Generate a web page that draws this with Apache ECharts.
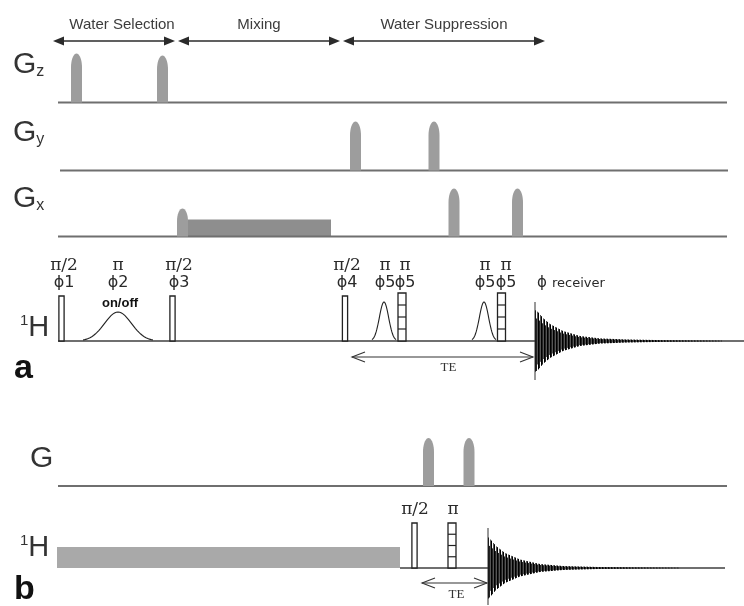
<!DOCTYPE html>
<html><head><meta charset="utf-8">
<script src="https://cdn.jsdelivr.net/npm/echarts@6/dist/echarts.min.js"></script>
<style>html,body{margin:0;padding:0;background:#fff}#c{width:744px;height:606px}</style>
</head><body><div id="c"></div>
<script>
// ================= DATA (time positions) =================
// Sequence phases (panel a)
const phaseNames = ['Water Selection', 'Mixing', 'Water Suppression'];
const phaseStart = [53, 178, 343];
const phaseEnd   = [175, 340, 545];

// Gradient lobes: centre times and amplitudes
const gzLobeTimes = [76.5, 162.5];
const gzLobeAmps  = [49, 47];
const gyLobeTimes = [355.5, 434];
const gyLobeAmps  = [49, 49];
const gxLobeTimes = [182.5, 454, 517.5];
const gxLobeAmps  = [28, 48, 48];
const gxMixingBlock = [188, 331];      // start, end
const gxMixingAmp = 17;
const gbLobeTimes = [428.5, 469];
const gbLobeAmps  = [48, 48];

// RF: hard pulses (pi/2), composite pulses (pi), shaped gaussian pulses
const hardPulseTimesA = [61.5, 172.5, 345];
const hardPulseTimesB = [414.5];
const compPulseTimesA = [402, 501.5];
const compPulseTimesB = [452];
const gaussTimesA = [118, 384, 484];
const gaussWidthsA = [70, 24, 24];
const gaussAmpsA = [29, 39, 39];
const saturationBlockB = [57, 400];   // start, end
const saturationAmpB = 21;

// Pulse labels
const flipLabelsA  = ['π/2', 'π', 'π/2', 'π/2', 'π', 'π', 'π', 'π'];
const phaseLabelsA = ['ϕ1', 'ϕ2', 'ϕ3', 'ϕ4', 'ϕ5', 'ϕ5', 'ϕ5', 'ϕ5'];
const labelTimesA  = [64, 118, 179, 347, 385, 405, 485, 506];
const flipLabelsB  = ['π/2', 'π'];
const labelTimesB  = [415, 453];

// Acquisition (FID) : start time and envelope amplitudes at time offsets
const fidStartA = 535;
const fidOffsetsA = [0, 3, 8, 15, 28, 45, 65, 90, 130, 180, 209];
const fidEnvA     = [31, 29, 23, 17, 10, 5, 2.6, 1.6, 0.8, 0.4, 0];
const fidStartB = 488;
const fidOffsetsB = [0, 3, 8, 17, 32, 52, 75, 110, 160, 237];
const fidEnvB     = [31, 28, 22, 15, 8.5, 4, 2, 1, 0.5, 0];

// Echo time markers
const teA = [352, 533];
const teB = [422, 487];

// ================= LAYOUT =================
const ROW = {gz: 102.5, gy: 170.5, gx: 236.5, ha: 341, gb: 486, hb: 568};
const GREY_LOBE = '#9d9d9d', GREY_LINE = '#6f6f6f', INK = '#222', TXT = '#3a3a3a';

function lobes(times, amps, row) { return times.map((t, i) => [t, row, amps[i]]); }
const lobeData = [].concat(
  lobes(gzLobeTimes, gzLobeAmps, ROW.gz),
  lobes(gyLobeTimes, gyLobeAmps, ROW.gy),
  lobes(gxLobeTimes, gxLobeAmps, ROW.gx),
  lobes(gbLobeTimes, gbLobeAmps, ROW.gb)
);
const blockData = [
  [gxMixingBlock[0], gxMixingBlock[1], ROW.gx, gxMixingAmp, 0],
  [saturationBlockB[0], saturationBlockB[1], ROW.hb, saturationAmpB, 1]
];
const baselineData = [
  [58, 727, ROW.gz], [60, 728, ROW.gy], [58, 727, ROW.gx],
  [58, 744, ROW.ha], [58, 727, ROW.gb], [400, 725, ROW.hb]
];
const hardData = hardPulseTimesA.map(t => [t, ROW.ha, 45]).concat(hardPulseTimesB.map(t => [t, ROW.hb, 45]));
const compData = compPulseTimesA.map(t => [t, ROW.ha, 48]).concat(compPulseTimesB.map(t => [t, ROW.hb, 45]));
const gaussData = gaussTimesA.map((t, i) => [t, ROW.ha, gaussWidthsA[i], gaussAmpsA[i]]);
const fidData = [[fidStartA, ROW.ha, 0], [fidStartB, ROW.hb, 1]];
const fidSpikes = [[39, 39], [40, 37]];
const teData = [[teA[0], teA[1], ROW.ha + 16], [teB[0], teB[1], ROW.hb + 15]];
const phaseData = phaseNames.map((n, i) => [phaseStart[i], phaseEnd[i], 41]);

// ---------- render helpers ----------
function lobeItem(params, api) {
  const t = api.value(0), y0 = api.value(1), h = api.value(2);
  const w = 11, r = Math.min(14, h * 0.45);
  const pts = [api.coord([t - w / 2, y0])];
  for (let i = 0; i <= 18; i++) {
    const a = Math.PI - i * Math.PI / 18;
    pts.push(api.coord([t + (w / 2) * Math.cos(a), y0 - h + r - r * Math.sin(a)]));
  }
  pts.push(api.coord([t + w / 2, y0]));
  return {type: 'polygon', shape: {points: pts}, style: {fill: GREY_LOBE}};
}
function blockItem(params, api) {
  const a = api.coord([api.value(0), api.value(2) - api.value(3)]);
  const b = api.coord([api.value(1), api.value(2)]);
  const kind = api.value(4);
  return {type: 'rect', shape: {x: a[0], y: a[1], width: b[0] - a[0], height: b[1] - a[1]},
    style: {fill: kind === 0 ? '#8e8e8e' : '#a9a9a9'}};
}
function baselineItem(params, api) {
  const a = api.coord([api.value(0), api.value(2)]), b = api.coord([api.value(1), api.value(2)]);
  return {type: 'line', shape: {x1: a[0], y1: a[1], x2: b[0], y2: b[1]},
    style: {stroke: GREY_LINE, lineWidth: 2}};
}
function hardItem(params, api) {
  const t = api.value(0), y0 = api.value(1), h = api.value(2);
  const a = api.coord([t - 2.6, y0 - h]), b = api.coord([t + 2.6, y0]);
  return {type: 'rect', shape: {x: a[0], y: a[1], width: b[0] - a[0], height: b[1] - a[1]},
    style: {fill: '#fff', stroke: INK, lineWidth: 1.3}};
}
function compItem(params, api) {
  const t = api.value(0), y0 = api.value(1), h = api.value(2);
  const a = api.coord([t - 4, y0 - h]), b = api.coord([t + 4, y0]);
  const children = [{type: 'rect', shape: {x: a[0], y: a[1], width: b[0] - a[0], height: b[1] - a[1]},
    style: {fill: '#fff', stroke: INK, lineWidth: 1.3}}];
  for (let k = 1; k < 4; k++) {
    const y = a[1] + (b[1] - a[1]) * k / 4;
    children.push({type: 'line', shape: {x1: a[0], y1: y, x2: b[0], y2: y}, style: {stroke: INK, lineWidth: 1.2}});
  }
  return {type: 'group', children};
}
function gaussItem(params, api) {
  const t = api.value(0), y0 = api.value(1), w = api.value(2), h = api.value(3);
  const s = w / 5.2, pts = [];
  for (let i = 0; i <= 40; i++) {
    const x = t - w / 2 + w * i / 40;
    pts.push(api.coord([x, y0 - h * Math.exp(-((x - t) * (x - t)) / (2 * s * s))]));
  }
  return {type: 'polyline', shape: {points: pts}, style: {stroke: INK, lineWidth: 1.1, fill: null}};
}
function envAt(offs, env, d) {
  if (d >= offs[offs.length - 1]) return 0;
  for (let i = 1; i < offs.length; i++) if (d <= offs[i]) {
    const f = (d - offs[i - 1]) / (offs[i] - offs[i - 1]);
    return env[i - 1] + (env[i] - env[i - 1]) * f;
  }
  return 0;
}
function fidItem(params, api) {
  const t0 = api.value(0), y0 = api.value(1), which = api.value(2);
  const offs = which === 0 ? fidOffsetsA : fidOffsetsB, env = which === 0 ? fidEnvA : fidEnvB;
  const children = [];
  const end = offs[offs.length - 1];
  for (let d = 0.5; d <= end; d += 1) {
    const e = envAt(offs, env, d);
    if (e < 0.3) continue;
    const k = Math.floor(d) % 3;
    const up = api.coord([t0 + d, y0 - e * (k === 1 ? 0.75 : 1)]);
    const dn = api.coord([t0 + d, y0 + e * (k === 2 ? 0.8 : 1)]);
    children.push({type: 'line', shape: {x1: up[0], y1: up[1], x2: dn[0], y2: dn[1]},
      style: {stroke: k === 0 ? '#000' : (k === 1 ? '#222' : '#555'), lineWidth: 1}});
  }
  const sp = fidSpikes[which];
  const s1 = api.coord([t0, y0 - sp[0]]), s2 = api.coord([t0, y0 + sp[1]]);
  children.push({type: 'line', shape: {x1: s1[0], y1: s1[1], x2: s2[0], y2: s2[1]}, style: {stroke: '#333', lineWidth: 1}});
  return {type: 'group', children};
}
function teItem(params, api) {
  const a = api.coord([api.value(0), api.value(2)]), b = api.coord([api.value(1), api.value(2)]);
  const st = {stroke: '#333', lineWidth: 1.1, fill: null};
  return {type: 'group', children: [
    {type: 'line', shape: {x1: a[0], y1: a[1], x2: b[0], y2: b[1]}, style: st},
    {type: 'polyline', shape: {points: [[a[0] + 13, a[1] - 5], a, [a[0] + 13, a[1] + 5]]}, style: st},
    {type: 'polyline', shape: {points: [[b[0] - 13, b[1] - 5], b, [b[0] - 13, b[1] + 5]]}, style: st}
  ]};
}
function phaseItem(params, api) {
  const a = api.coord([api.value(0), api.value(2)]), b = api.coord([api.value(1), api.value(2)]);
  const c = '#2b2b2b';
  return {type: 'group', children: [
    {type: 'line', shape: {x1: a[0] + 6, y1: a[1], x2: b[0] - 6, y2: b[1]}, style: {stroke: c, lineWidth: 1.4}},
    {type: 'polygon', shape: {points: [a, [a[0] + 11, a[1] - 4.5], [a[0] + 11, a[1] + 4.5]]}, style: {fill: c}},
    {type: 'polygon', shape: {points: [b, [b[0] - 11, b[1] - 4.5], [b[0] - 11, b[1] + 4.5]]}, style: {fill: c}}
  ]};
}

// ---------- texts ----------
const SANS = 'Liberation Sans, Arial, sans-serif';
const textData = [];
phaseNames.forEach((n, i) => textData.push([(phaseStart[i] + phaseEnd[i]) / 2 + (i === 0 ? 8 : 0), 25, n, 'phase']));
flipLabelsA.forEach((f, i) => {
  textData.push([labelTimesA[i], 266, f, 'flip']);
  textData.push([labelTimesA[i], 283, phaseLabelsA[i], 'phi']);
});
flipLabelsB.forEach((f, i) => textData.push([labelTimesB[i], 510, f, 'flip']));
textData.push([120, 303, 'on/off', 'bold']);
textData.push([542, 283, 'ϕ', 'rphi']);
textData.push([552, 284, 'receiver', 'recv']);
textData.push([(teA[0] + teA[1]) / 2 + 6, 368, 'TE', 'te']);
textData.push([(teB[0] + teB[1]) / 2 + 2, 595, 'TE', 'te']);
textData.push([13, 65, '{g|G}{s|z}', 'chan']);
textData.push([13, 133, '{g|G}{s|y}', 'chan']);
textData.push([13, 199, '{g|G}{s|x}', 'chan']);
textData.push([20, 328, '{s|1}{g|H}', 'chanH']);
textData.push([30, 459, '{g|G}', 'chan']);
textData.push([20, 548, '{s|1}{g|H}', 'chanH']);
textData.push([14, 369, 'a', 'panel']);
textData.push([14, 590, 'b', 'panel']);

function textItem(params, api) {
  const d = textData[params.dataIndex];
  const p = api.coord([d[0], d[1]]);
  const kind = d[3];
  let style = {text: d[2], x: p[0], y: p[1], fill: TXT, align: 'center', verticalAlign: 'middle'};
  if (kind === 'phase') style.font = '15px ' + SANS, style.fill = '#3c3c3c';
  else if (kind === 'flip') style.font = '17px DejaVu Serif, serif', style.fill = '#2a2a2a';
  else if (kind === 'phi') style.font = '16px DejaVu Sans, sans-serif', style.fill = '#2a2a2a';
  else if (kind === 'bold') style.font = 'bold 13px ' + SANS, style.fill = '#111';
  else if (kind === 'rphi') style.font = '15px DejaVu Sans, sans-serif', style.fill = '#2a2a2a';
  else if (kind === 'recv') { style.font = '13px DejaVu Sans, sans-serif'; style.align = 'left'; style.fill = '#2a2a2a'; }
  else if (kind === 'te') style.font = '13px Liberation Serif, serif', style.fill = '#333';
  else if (kind === 'panel') { style.font = 'bold 34px ' + SANS; style.align = 'left'; style.fill = '#111'; }
  else if (kind === 'chan' || kind === 'chanH') {
    style.align = 'left';
    style.rich = kind === 'chan'
      ? {g: {font: '30px ' + SANS, fill: '#333', verticalAlign: 'bottom', lineHeight: 30},
         s: {font: '16px ' + SANS, fill: '#333', verticalAlign: 'bottom', lineHeight: 14, padding: [0, 0, 0, 0]}}
      : {g: {font: '29px ' + SANS, fill: '#333', verticalAlign: 'top', lineHeight: 30},
         s: {font: '15px ' + SANS, fill: '#333', verticalAlign: 'top', lineHeight: 30}};
  }
  return {type: 'text', style};
}

const chart = echarts.init(document.getElementById('c'));
const custom = (data, renderItem, z) => ({type: 'custom', coordinateSystem: 'cartesian2d', data, renderItem, z: z || 2, silent: true, animation: false});
chart.setOption({
  animation: false,
  grid: {left: 0, right: 0, top: 0, bottom: 0},
  xAxis: {type: 'value', min: 0, max: 744, show: false},
  yAxis: {type: 'value', min: 0, max: 606, inverse: true, show: false},
  series: [
    custom(blockData, blockItem, 1),
    custom(baselineData, baselineItem, 2),
    custom(lobeData, lobeItem, 3),
    custom(hardData, hardItem, 4),
    custom(compData, compItem, 4),
    custom(gaussData, gaussItem, 4),
    custom(fidData, fidItem, 4),
    custom(teData, teItem, 4),
    custom(phaseData, phaseItem, 4),
    custom(textData.map(d => [d[0], d[1]]), textItem, 5)
  ]
});
</script></body></html>
